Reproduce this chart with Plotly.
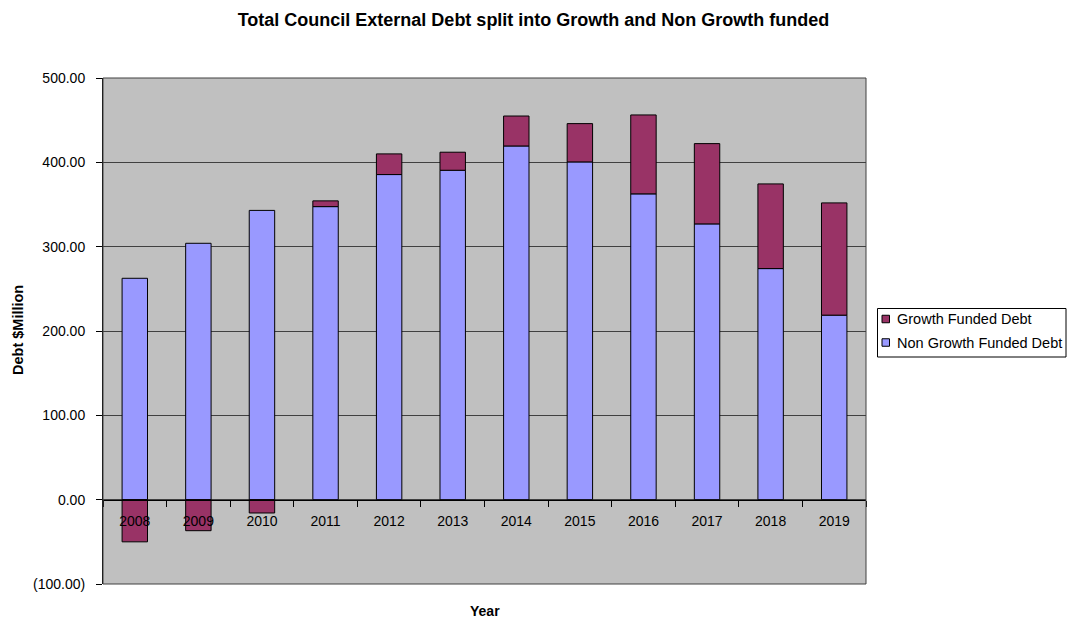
import plotly.graph_objects as go

years = ["2008", "2009", "2010", "2011", "2012", "2013", "2014", "2015", "2016", "2017", "2018", "2019"]
non_growth = [262.5, 304.0, 343.0, 347.5, 385.5, 390.6, 419.4, 400.5, 362.6, 327.0, 274.0, 218.8]
growth = [-50.0, -36.8, -15.8, 6.8, 24.5, 21.4, 35.5, 45.4, 93.6, 95.2, 100.4, 133.1]
y_ticks = [-100, 0, 100, 200, 300, 400, 500]

series_names = ["Non Growth Funded Debt", "Growth Funded Debt"]
series_colors = ["#9999FF", "#993366"]


def fmt(v):
    return f"({abs(v):,.2f})" if v < 0 else f"{v:,.2f}"


font_family = "Liberation Sans, Arial, sans-serif"

# pixel -> paper helpers (plot area: x 103..866, y 78..584)
L, R, T, B = 103, 866, 78, 584
W, H = R - L, B - T


def px(x):
    return (x - L) / W


def py(y):
    return (B - y) / H


fig = go.Figure()
fig.add_trace(go.Bar(
    x=years, y=non_growth, name=series_names[0],
    marker=dict(color=series_colors[0], line=dict(color="#000000", width=1)),
))
fig.add_trace(go.Bar(
    x=years, y=growth, name=series_names[1],
    marker=dict(color=series_colors[1], line=dict(color="#000000", width=1)),
))

# custom legend (Growth first, like the reference)
shapes = [
    dict(type="rect", xref="paper", yref="paper", x0=0, x1=1, y0=0, y1=1,
         line=dict(color="#404040", width=1), layer="above"),
    dict(type="rect", xref="paper", yref="paper", x0=px(877.5), x1=px(1066), y0=py(357), y1=py(308.5),
         line=dict(color="#000000", width=1), fillcolor="#FFFFFF", layer="above"),
]
annotations = [
    dict(text="<b>Year</b>", xref="paper", yref="paper",
         x=0.5, y=py(611), xanchor="center", yanchor="middle",
         showarrow=False, font=dict(size=14, family=font_family)),
    dict(text="<b>Debt $Million</b>", xref="paper", yref="paper",
         x=px(18), y=py(330), xanchor="center", yanchor="middle", textangle=-90,
         showarrow=False, font=dict(size=14.5, family=font_family)),
]
legend_rows = [(series_names[1], series_colors[1], 319), (series_names[0], series_colors[0], 342.5)]
for name, color, cy in legend_rows:
    shapes.append(dict(type="rect", xref="paper", yref="paper",
                       x0=px(882), x1=px(889.5), y0=py(cy + 3.75), y1=py(cy - 3.75),
                       line=dict(color="#000000", width=1), fillcolor=color, layer="above"))
    annotations.append(dict(text=name, xref="paper", yref="paper", x=px(895), y=py(cy),
                            xanchor="left", yanchor="middle", showarrow=False,
                            font=dict(size=14.5, family=font_family)))

fig.update_layout(
    width=1067, height=619,
    barmode="relative", bargap=0.6,
    showlegend=False,
    paper_bgcolor="#FFFFFF", plot_bgcolor="#C0C0C0",
    margin=dict(l=L, r=1067 - R, t=T, b=619 - B, autoexpand=False),
    font=dict(family=font_family, size=14, color="#000000"),
    title=dict(
        text="<b>Total Council External Debt split into Growth and Non Growth funded</b>",
        x=0.5, xref="container", xanchor="center",
        y=1 - 20 / 619, yref="container", yanchor="middle",
        font=dict(size=18, family=font_family, color="#000000"),
    ),
    xaxis=dict(
        type="category", anchor="free", position=1 / 6,
        tickson="boundaries", ticks="outside", ticklen=6, tickcolor="#000000",
        ticklabelstandoff=9,
        showline=True, linecolor="#000000", linewidth=1,
        showgrid=False, zeroline=False, automargin=False,
        tickfont=dict(size=14, family=font_family),
    ),
    yaxis=dict(
        range=[-100, 500], tickvals=y_ticks, ticktext=[fmt(v) for v in y_ticks],
        ticks="outside", ticklen=6, tickcolor="#000000",
        ticklabelstandoff=8,
        showline=True, linecolor="#000000", linewidth=1,
        showgrid=True, gridcolor="#404040", gridwidth=1,
        zeroline=False, automargin=False,
        tickfont=dict(size=14, family=font_family),
    ),
    annotations=annotations,
    shapes=shapes,
)

fig.write_html(
    "out.html",
    config={"displayModeBar": False},
    post_script="document.body.style.margin='0';document.body.style.overflow='hidden';",
)
